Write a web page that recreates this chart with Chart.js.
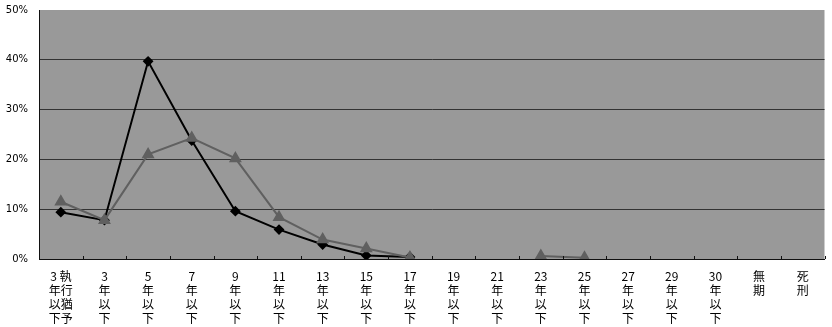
<!DOCTYPE html>
<html>
<head>
<meta charset="utf-8">
<script src="https://cdn.jsdelivr.net/npm/chart.js@4.4.1/dist/chart.umd.min.js"></script>
<style>
  html, body { margin: 0; padding: 0; background: #fff; }
  #wrap { width: 832px; height: 327px; position: relative; }
</style>
</head>
<body>
<div id="wrap"><canvas id="c"></canvas></div>
<script>
// 量刑区分（縦書きラベル）
const categories = [
  ['3 執', '年行', '以猶', '下予'],
  ['3', '年', '以', '下'],
  ['5', '年', '以', '下'],
  ['7', '年', '以', '下'],
  ['9', '年', '以', '下'],
  ['11', '年', '以', '下'],
  ['13', '年', '以', '下'],
  ['15', '年', '以', '下'],
  ['17', '年', '以', '下'],
  ['19', '年', '以', '下'],
  ['21', '年', '以', '下'],
  ['23', '年', '以', '下'],
  ['25', '年', '以', '下'],
  ['27', '年', '以', '下'],
  ['29', '年', '以', '下'],
  ['30', '年', '以', '下'],
  ['無', '期'],
  ['死', '刑']
];

// 割合（%）
const seriesBlack = [9.4, 7.8, 39.7, 23.8, 9.6, 5.9, 2.9, 0.7, 0.4, null, null, null, null, null, null, null, null, null];
const seriesGray  = [11.5, 7.8, 21.0, 24.3, 20.2, 8.4, 3.9, 2.1, 0.3, null, null, 0.6, 0.25, null, null, null, null, null];

const yTicks = [0, 10, 20, 30, 40, 50];

// 描画領域の背景と内向きの目盛り
const plotDecor = {
  id: 'plotDecor',
  beforeDraw(chart) {
    const { ctx, chartArea: a } = chart;
    ctx.save();
    ctx.fillStyle = '#999999';
    ctx.fillRect(a.left, a.top, a.right - a.left, a.bottom - a.top);
    ctx.restore();
  },
  afterDatasetsDraw(chart) {
    const { ctx, chartArea: a } = chart;
    const x = chart.scales.x;
    const n = categories.length;
    const w = (x.right - x.left) / n;
    ctx.save();
    ctx.strokeStyle = '#111';
    ctx.lineWidth = 1;
    ctx.beginPath();
    for (let i = 1; i <= n; i++) {
      const px = Math.round(x.left + i * w) + 0.5;
      ctx.moveTo(px, a.bottom);
      ctx.lineTo(px, a.bottom - 3);
    }
    ctx.stroke();
    ctx.restore();
  }
};

new Chart(document.getElementById('c'), {
  type: 'line',
  data: {
    labels: categories,
    datasets: [
      {
        label: 'A',
        data: seriesGray,
        borderColor: '#606060',
        backgroundColor: '#606060',
        borderWidth: 2,
        pointStyle: 'triangle',
        pointRadius: 5.5,
        pointHoverRadius: 5.5,
        spanGaps: false,
        tension: 0
      },
      {
        label: 'B',
        data: seriesBlack,
        borderColor: '#000000',
        backgroundColor: '#000000',
        borderWidth: 2,
        pointStyle: 'rectRot',
        pointRadius: 4,
        pointHoverRadius: 4,
        spanGaps: false,
        tension: 0
      }
    ]
  },
  options: {
    responsive: true,
    maintainAspectRatio: false,
    animation: false,
    layout: { padding: { top: 10, right: 0, left: 0, bottom: 0 } },
    plugins: {
      legend: { display: false },
      tooltip: { enabled: false }
    },
    scales: {
      x: {
        offset: true,
        grid: { display: false, drawTicks: false },
        border: { display: true, color: '#111', width: 1 },
        ticks: {
          autoSkip: false,
          maxRotation: 0,
          minRotation: 0,
          padding: 11,
          color: '#000',
          font: { family: '"Noto Sans CJK JP"', size: 12, lineHeight: 1.15 }
        },
        afterFit(scale) {
          scale.height = 68;
          scale.paddingRight = 0;
        }
      },
      y: {
        min: 0,
        max: 50,
        afterBuildTicks(scale) { scale.ticks = yTicks.map(v => ({ value: v })); },
        grid: {
          drawTicks: false,
          color: ctx => (ctx.tick && ctx.tick.value > 0 && ctx.tick.value < 50) ? '#333333' : 'rgba(0,0,0,0)',
          lineWidth: 1
        },
        border: { display: true, color: '#111', width: 1 },
        ticks: {
          padding: 11,
          color: '#000',
          font: { family: '"DejaVu Sans"', size: 10 },
          callback: v => v + '%'
        },
        afterFit(scale) {
          scale.width = 39;
          scale.paddingTop = 0;
          scale.paddingBottom = 0;
        }
      }
    }
  },
  plugins: [plotDecor]
});
</script>
</body>
</html>
